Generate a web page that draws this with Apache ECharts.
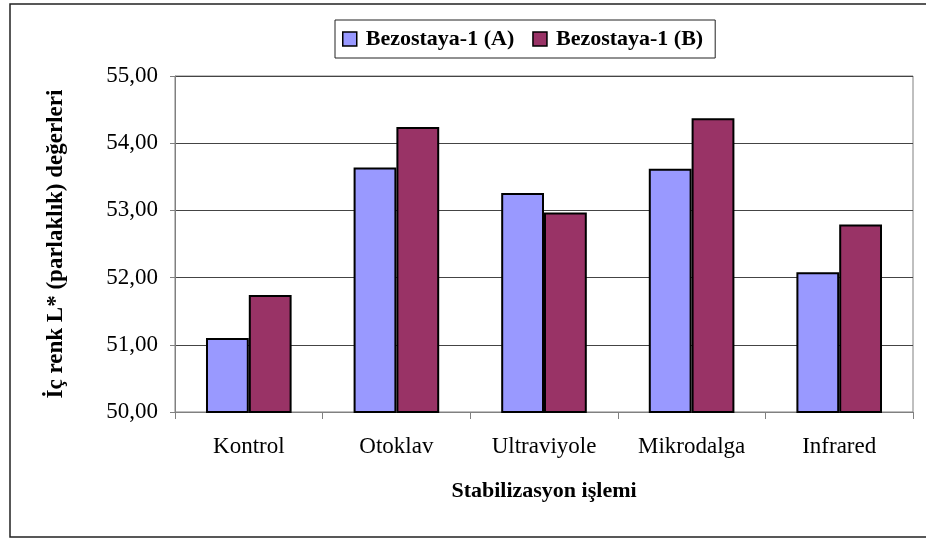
<!DOCTYPE html>
<html>
<head>
<meta charset="utf-8">
<script src="https://cdn.jsdelivr.net/npm/echarts@6/dist/echarts.min.js"></script>
<style>
  html, body { margin: 0; padding: 0; background: #fff; }
  #chart { width: 926px; height: 540px; }
</style>
</head>
<body>
<div id="chart"></div>
<script>
  var categories = ['Kontrol', 'Otoklav', 'Ultraviyole', 'Mikrodalga', 'Infrared']
  var seriesNames = ['Bezostaya-1 (A)', 'Bezostaya-1 (B)']
  var valuesA = [51.10, 53.64, 53.26, 53.62, 52.08]
  var valuesB = [51.74, 54.24, 52.97, 54.37, 52.79]
  var yTicks = { min: 50, max: 55, interval: 1 }

  var font = '"Liberation Serif", "Times New Roman", serif'
  var chart = echarts.init(document.getElementById('chart'))

  var option = {
    animation: false,
    textStyle: { fontFamily: font },
    graphic: [
      {
        // outer frame
        type: 'rect',
        shape: { x: 10, y: 4, width: 930, height: 533 },
        style: { fill: 'none', stroke: '#222', lineWidth: 1.5 }
      }
    ],
    legend: {
      left: 335,
      top: 20,
      padding: [8, 12, 8, 7],
      itemGap: 18,
      itemWidth: 14,
      itemHeight: 14,
      icon: 'rect',
      borderColor: '#222',
      borderWidth: 1,
      itemStyle: { borderColor: '#000', borderWidth: 1.5 },
      textStyle: { fontFamily: font, fontSize: 22, fontWeight: 'bold', color: '#000', padding: [0, 0, 0, 4] },
      data: seriesNames
    },
    grid: {
      left: 175,
      right: 13,
      top: 76,
      bottom: 128,
      show: true,
      borderColor: '#808080',
      borderWidth: 1
    },
    xAxis: {
      type: 'category',
      data: categories,
      name: 'Stabilizasyon işlemi',
      nameLocation: 'middle',
      nameGap: 68,
      nameTextStyle: { fontFamily: font, fontSize: 22, fontWeight: 'bold', color: '#000' },
      axisLine: { lineStyle: { color: '#808080', width: 1 } },
      axisTick: { show: true, length: 7, lineStyle: { color: '#808080' } },
      axisLabel: { fontFamily: font, fontSize: 23, color: '#000', margin: 23 },
      splitLine: { show: false }
    },
    yAxis: {
      type: 'value',
      min: yTicks.min,
      max: yTicks.max,
      interval: yTicks.interval,
      name: 'İç renk L* (parlaklık) değerleri',
      nameLocation: 'middle',
      nameGap: 107,
      nameRotate: 90,
      nameTextStyle: { fontFamily: font, fontSize: 23, fontWeight: 'bold', color: '#000' },
      axisLine: { show: true, lineStyle: { color: '#808080', width: 1 } },
      axisTick: { show: true, length: 5, lineStyle: { color: '#808080' } },
      axisLabel: {
        fontFamily: font,
        fontSize: 23,
        color: '#000',
        margin: 17,
        formatter: function (v) { return v.toFixed(2).replace('.', ',') }
      },
      splitLine: { show: true, lineStyle: { color: '#444', width: 1 } }
    },
    series: [
      {
        name: seriesNames[0],
        type: 'bar',
        data: valuesA,
        barGap: '0%',
        barCategoryGap: '42%',
        itemStyle: { color: '#9999FF', borderColor: '#000', borderWidth: 2 }
      },
      {
        name: seriesNames[1],
        type: 'bar',
        data: valuesB,
        itemStyle: { color: '#993366', borderColor: '#000', borderWidth: 2 }
      }
    ]
  }

  chart.setOption(option)
</script>
</body>
</html>
